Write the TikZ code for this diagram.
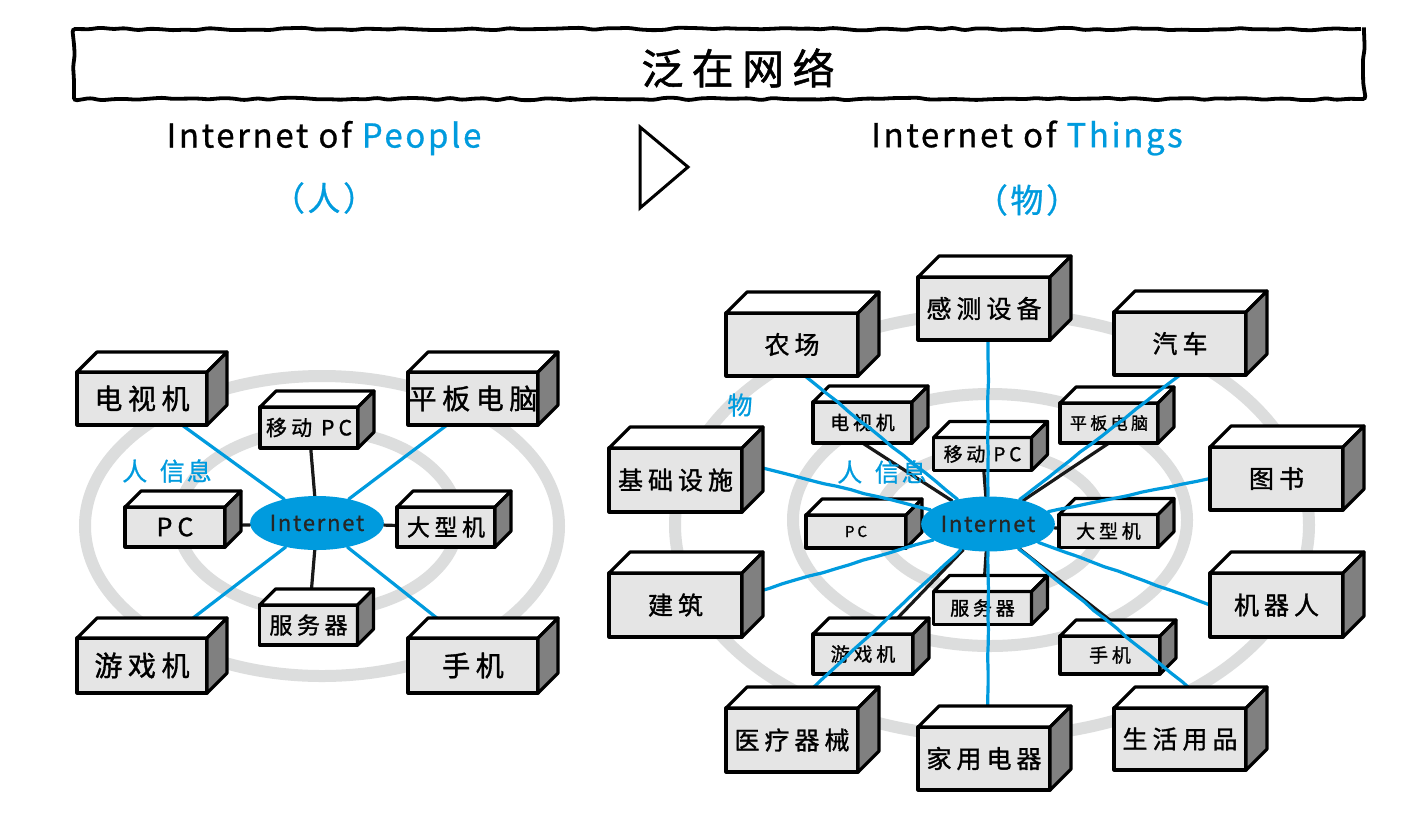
\documentclass[tikz,border=0pt]{standalone}
\usepackage{fontspec}
\setmainfont{Noto Sans CJK SC}
\newfontfamily\boxfont[LetterSpace=20,FakeBold=1.2]{Noto Sans CJK SC}
\newfontfamily\wordfont[LetterSpace=8,FakeBold=0.8]{Noto Sans CJK SC}
\usetikzlibrary{calc,shapes.geometric,decorations.pathmorphing}
\definecolor{netblue}{RGB}{0,155,222}
\definecolor{facegray}{RGB}{229,229,229}
\definecolor{sidegray}{RGB}{128,128,128}
\definecolor{ringgray}{RGB}{220,221,221}
\pgfdeclarelayer{rings}
\pgfdeclarelayer{under}
\pgfdeclarelayer{inner}
\pgfdeclarelayer{over}
\pgfsetlayers{rings,under,inner,over,main}
\tikzset{
	face/.style={draw, line width=3.2pt, fill=facegray, inner sep=0pt, outer sep=0pt, line join=round},
	edge/.style={line width=3.2pt, line join=round},
	hugetext/.style={font=\boxfont\fontsize{28}{32}\selectfont},
	bigtext/.style={font=\boxfont\fontsize{25}{30}\selectfont},
	midtext/.style={font=\boxfont\fontsize{23}{27}\selectfont},
	smalltext/.style={font=\boxfont\fontsize{19}{22}\selectfont},
	wire/.style={line width=3.2pt, netblue, line cap=round},
	link/.style={line width=3.2pt, black!90, line cap=round},
	wobbly/.style={decorate, decoration={random steps, segment length=14pt, amplitude=0.5pt}},
	ring/.style={line width=12pt, ringgray},
	net/.style={ellipse, fill=netblue, inner sep=0pt, font=\wordfont\fontsize{22}{26}\selectfont, text=black!85},
	bluetext/.style={text=netblue, font=\wordfont\fontsize{25}{29}\selectfont},
	head/.style={font=\wordfont\fontsize{33}{38}\selectfont},
}
% box with front face (node), top and side: [text style](centre)(width:height:depth){name}{label}
\def\boxcube[#1](#2)(#3:#4:#5)#6#7{%
	\node[face, #1, minimum width=#3pt, minimum height=#4pt] (#6) at (#2) {#7};
	\draw[edge, fill=white] (#6.north west) -- ++(#5,-#5) -- ($(#6.north east)+(#5,-#5)$) -- (#6.north east) -- cycle;
	\draw[edge, fill=sidegray] (#6.north east) -- ++(#5,-#5) -- ($(#6.south east)+(#5,-#5)$) -- (#6.south east) -- cycle;
}

\begin{document}
\begin{tikzpicture}[x=1pt, y=-1pt]
	%%%%% START %%%%%
	\pgfmathsetseed{7}
	\useasboundingbox (0,0) rectangle (1426,815);
	
	\node[draw, line width=3.8pt, minimum width=1290pt, minimum height=70pt, decorate,
		decoration={random steps, segment length=12pt, amplitude=1.3pt}, rounded corners=3pt] (frame) at (719,64) {};
	\node[font=\boxfont\fontsize{42}{48}\selectfont] (title) at (738,68) {泛在网络};
	
	\node[head] (iop) at (324,138) {Internet of \textcolor{netblue}{People}};
	\node[head, text=netblue] (ren) at (324,198) {（人）};
	\node[head] (iot) at (1027,138) {Internet of \textcolor{netblue}{Things}};
	\node[head, text=netblue] (wu) at (1027,200) {（物）};
	\draw[line width=3pt] (640,127) -- (640,208) -- (688,167) -- cycle;
	
	%%%%% rings %%%%%
	\begin{pgfonlayer}{rings}
		\fill[white] (0,0) rectangle (1426,815);
		\draw[ring] (322,526) ellipse [x radius=237pt, y radius=150pt];
		\draw[ring] (318,521) ellipse [x radius=140pt, y radius=91pt];
		\draw[ring] (992,525) ellipse [x radius=317pt, y radius=212pt];
		\draw[ring] (990,520) ellipse [x radius=197pt, y radius=126pt];
		\draw[ring] (990,522) ellipse [x radius=112pt, y radius=70pt];
	\end{pgfonlayer}
	
	%%%%% people %%%%%
	\node[net, minimum width=130pt, minimum height=54pt] (netL) at (317,523) {Internet};
	
	\boxcube[hugetext](142,398.5)(130:53:20){tvL}{电视机}
	\boxcube[hugetext](473,398.5)(130:53:20){padL}{平板电脑}
	\boxcube[hugetext](142,665.5)(130:55:20){gameL}{游戏机}
	\boxcube[hugetext](473,665.5)(130:55:20){phoneL}{手机}
	\begin{pgfonlayer}{inner}
		\boxcube[midtext, font=\boxfont\fontsize{21}{24}\selectfont](309,427.5)(98:41:16){mpcL}{移动 PC}
		\boxcube[midtext, font=\boxfont\fontsize{25}{28}\selectfont](175,527)(100:40:16){pcL}{PC}
		\boxcube[midtext](446,527)(98:40:16){mainL}{大型机}
		\boxcube[midtext](308.5,625)(98:40:16){servL}{服务器}
	\end{pgfonlayer}
	
	\begin{pgfonlayer}{under}
		\draw[link] (mpcL) -- (netL);
		\draw[link] (pcL) -- (netL);
		\draw[link] (mainL) -- (netL);
		\draw[link] (servL) -- (netL);
	\end{pgfonlayer}
	\begin{pgfonlayer}{over}
		\draw[wire] ([xshift=40pt]tvL.south) -- (netL);
		\draw[wire] ([xshift=-26pt]padL.south) -- (netL);
		\draw[wire] ([xshift=25pt]gameL.north) -- (netL);
		\draw[wire] ([xshift=-11pt]phoneL.north) -- (netL);
	\end{pgfonlayer}
	\node[bluetext] (infoL) at (167,471) {人\enspace 信息};
	
	%%%%% things %%%%%
	\node[net, minimum width=122pt, minimum height=55pt] (netR) at (988,524) {Internet};
	
	\boxcube[bigtext](792,344.5)(132:63:21){farm}{农场}
	\boxcube[bigtext](984,308.5)(132:63:21){sensor}{感测设备}
	\boxcube[bigtext](1180,343.5)(132:63:21){car}{汽车}
	\boxcube[bigtext](675.5,480)(133:64:21){infra}{基础设施}
	\boxcube[bigtext](1276.5,478.5)(133:63:21){book}{图书}
	\boxcube[bigtext](675.5,605)(133:64:21){build}{建筑}
	\boxcube[bigtext](1276.5,605)(133:64:21){robot}{机器人}
	\boxcube[bigtext](792,740)(132:64:21){medic}{医疗器械}
	\boxcube[bigtext](984,758.5)(132:63:21){appl}{家用电器}
	\boxcube[bigtext](1180,739)(132:62:21){daily}{生活用品}
	\begin{pgfonlayer}{inner}
		\boxcube[smalltext](862.5,422.5)(99:41:16){tvR}{电视机}
		\boxcube[smalltext](982.5,454)(98:33:16){mpcR}{移动 PC}
		\boxcube[smalltext, font=\boxfont\fontsize{17}{20}\selectfont](1109,423)(98:40:16){padR}{平板电脑}
		\boxcube[smalltext, font=\boxfont\fontsize{15}{18}\selectfont](856,531.5)(100:33:16){pcR}{PC}
		\boxcube[smalltext](1108.5,531)(99:33:16){mainR}{大型机}
		\boxcube[smalltext](982.5,608)(98:33:16){servR}{服务器}
		\boxcube[smalltext](863,654)(100:40:16){gameR}{游戏机}
		\boxcube[smalltext](1110,655)(100:38:16){phoneR}{手机}
	\end{pgfonlayer}
	
	\begin{pgfonlayer}{under}
		\draw[link] (tvR.south) -- (netR);
		\draw[link] (mpcR) -- (netR);
		\draw[link] (padR.south) -- (netR);
		\draw[link] (pcR) -- (netR);
		\draw[link] (mainR) -- (netR);
		\draw[link] (servR) -- (netR);
		\draw[link] (gameR) -- (netR);
		\draw[link] ([xshift=20pt]phoneR.north) -- (netR);
	\end{pgfonlayer}
	\begin{pgfonlayer}{over}
		\draw[wire, wobbly] ([xshift=13pt]farm.south) -- (netR);
		\draw[wire, wobbly] ([xshift=4pt]sensor.south) -- (netR);
		\draw[wire, wobbly] (car.south) -- (netR);
		\draw[wire, wobbly] ([yshift=17pt]infra.east) -- (netR);
		\draw[wire, wobbly] (book.west) -- (netR);
		\draw[wire, wobbly] ([yshift=9pt]build.east) -- (netR);
		\draw[wire, wobbly] (robot.west) -- (netR);
		\draw[wire, wobbly] (medic.north) -- (netR);
		\draw[wire, wobbly] ([xshift=4pt]appl.north) -- (netR);
		\draw[wire, wobbly] ([xshift=34pt]daily.north) -- (netR);
	\end{pgfonlayer}
	\node[bluetext] (thing) at (740,405) {物};
	\node[bluetext] (infoR) at (882,472) {人\enspace 信息};
	
	%%%%% END %%%%%
\end{tikzpicture}
\end{document}
